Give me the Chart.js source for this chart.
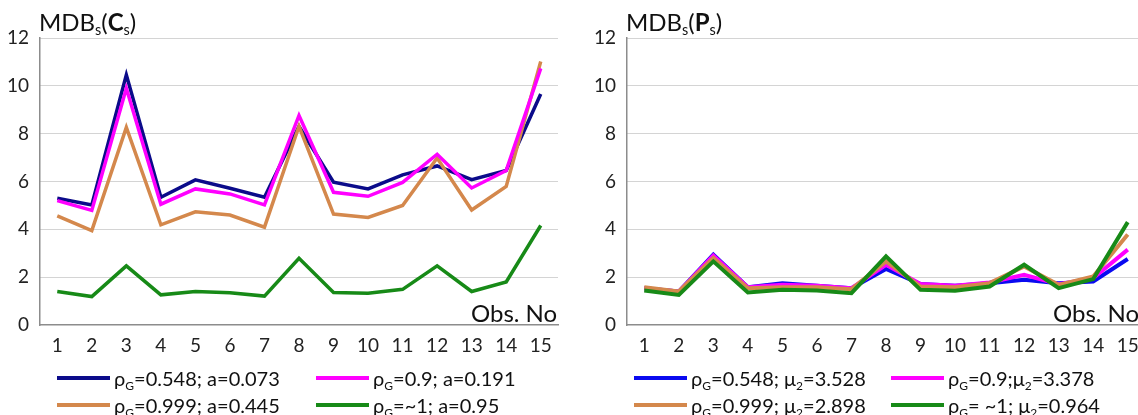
<!DOCTYPE html>
<html>
<head>
<meta charset="utf-8">
<script src="https://cdn.jsdelivr.net/npm/chart.js@4"></script>
<style>
  body { margin: 0; width: 1138px; height: 415px; overflow: hidden; background: #fff; position: relative; font-family: Lato, sans-serif; color: #111; }
  canvas { position: absolute; top: 0; }
  .txt { position: absolute; white-space: nowrap; line-height: 1; }
  .title, .obs { font-size: 24px; }
  sub { font-size: 0.6em; vertical-align: baseline; position: relative; top: 0.3em; line-height: 0; }
  .leg { position: absolute; font-size: 20px; white-space: nowrap; line-height: 1; display: flex; align-items: center; }
  .leg i { display: inline-block; width: 53px; height: 4px; margin-right: 4px; }
</style>
</head>
<body>
<canvas id="chartC" width="570" height="372" style="left:0"></canvas>
<canvas id="chartP" width="585" height="372" style="left:570px"></canvas>
<div class="txt title" style="left:39px; top:10px">MDB<sub>s</sub>(<b>C</b><sub>s</sub>)</div>
<div class="txt title" style="left:626px; top:10px">MDB<sub>s</sub>(<b>P</b><sub>s</sub>)</div>
<div class="txt obs" style="left:471px; top:301px">Obs. No</div>
<div class="txt obs" style="left:1053px; top:301px">Obs. No</div>
<div id="legends"></div>
<script>
// observation numbers on the x axis
const obsNo = ['1', '2', '3', '4', '5', '6', '7', '8', '9', '10', '11', '12', '13', '14', '15'];

// MDBs(Cs) values
const cBlue = [5.3, 5.02, 10.46, 5.34, 6.07, 5.72, 5.34, 8.3, 5.97, 5.69, 6.28, 6.65, 6.08, 6.46, 9.66];
const cMagenta = [5.2, 4.79, 9.9, 5.05, 5.69, 5.48, 5.02, 8.76, 5.55, 5.38, 5.96, 7.14, 5.73, 6.46, 10.73];
const cOrange = [4.56, 3.95, 8.26, 4.19, 4.73, 4.6, 4.09, 8.31, 4.64, 4.5, 5.0, 6.98, 4.81, 5.79, 11.02];
const cGreen = [1.4, 1.19, 2.47, 1.26, 1.4, 1.35, 1.21, 2.79, 1.36, 1.33, 1.49, 2.47, 1.4, 1.8, 4.16];

// MDBs(Ps) values
const pBlue = [1.54, 1.4, 2.94, 1.58, 1.75, 1.64, 1.54, 2.34, 1.71, 1.64, 1.75, 1.89, 1.75, 1.82, 2.76];
const pMagenta = [1.54, 1.4, 2.9, 1.58, 1.68, 1.64, 1.54, 2.52, 1.71, 1.64, 1.78, 2.1, 1.71, 1.96, 3.15];
const pOrange = [1.58, 1.4, 2.8, 1.54, 1.58, 1.58, 1.5, 2.66, 1.61, 1.58, 1.75, 2.45, 1.68, 2.03, 3.78];
const pGreen = [1.44, 1.26, 2.66, 1.36, 1.47, 1.44, 1.33, 2.87, 1.47, 1.43, 1.61, 2.52, 1.54, 1.92, 4.3];

const yTicks = [0, 2, 4, 6, 8, 10, 12];

// legend labels
const cLabels = ['ρ<sub>G</sub>=0.548; a=0.073', 'ρ<sub>G</sub>=0.9; a=0.191', 'ρ<sub>G</sub>=0.999; a=0.445', 'ρ<sub>G</sub>=~1; a=0.95'];
const pLabels = ['ρ<sub>G</sub>=0.548; μ<sub>2</sub>=3.528', 'ρ<sub>G</sub>=0.9;μ<sub>2</sub>=3.378', 'ρ<sub>G</sub>=0.999; μ<sub>2</sub>=2.898', 'ρ<sub>G</sub>= ~1; μ<sub>2</sub>=0.964'];

const cColors = ['#0b0b8a', '#ff00ff', '#d4884c', '#178a17'];
const pColors = ['#0a0af0', '#ff00ff', '#d4884c', '#178a17'];

function makeChart(id, series, colors, order, yWidth, padRight, lineWidth) {
    const ctx = document.getElementById(id).getContext('2d');
    return new Chart(ctx, {
        type: 'line',
        data: {
            labels: obsNo,
            datasets: series.map((d, i) => ({
                data: d, borderColor: colors[i], borderWidth: lineWidth,
                pointRadius: 0, tension: 0, fill: false, order: order[i],
                borderJoinStyle: 'miter'
            })),
        },
        options: {
            responsive: false,
            animation: false,
            layout: { padding: { top: 38, right: padRight, left: 0, bottom: 0 } },
            plugins: { legend: { display: false }, tooltip: { enabled: false } },
            scales: {
                x: {
                    type: 'category', offset: true,
                    grid: { display: false, drawTicks: false },
                    border: { display: true, color: '#8c8c8c', width: 1.5 },
                    ticks: { font: { family: 'Lato', size: 19 }, color: '#222', padding: 9, maxRotation: 0, autoSkip: false },
                    afterFit: (s) => { s.height = 372 - 325; },
                },
                y: {
                    min: 0, max: 12,
                    afterBuildTicks: (s) => { s.ticks = yTicks.map(v => ({ value: v })); },
                    grid: {
                        drawTicks: false, lineWidth: 1,
                        color: (c) => c.tick && c.tick.value === 0 ? 'rgba(0,0,0,0)' : '#a8a8a8',
                    },
                    border: { display: true, color: '#8c8c8c', width: 1.5, dash: [1, 1] },
                    ticks: { font: { family: 'Lato', size: 19 }, color: '#222', padding: 11 },
                    afterFit: (s) => { s.width = yWidth; },
                },
            },
        },
    });
}

const chartC = makeChart('chartC', [cBlue, cMagenta, cOrange, cGreen], cColors, [2, 0, 1, 3], 40, 12, 3.5);
const chartP = makeChart('chartP', [pBlue, pMagenta, pOrange, pGreen], pColors, [3, 2, 1, 0], 57, 10, 4);

// legends under each chart
function addLegend(labels, colors, xs, ys) {
    const box = document.getElementById('legends');
    labels.forEach((lab, i) => {
        const el = document.createElement('div');
        el.className = 'leg';
        el.style.left = xs[i % 2] + 'px';
        el.style.top = (ys[Math.floor(i / 2)] - 10) + 'px';
        el.innerHTML = '<i style="background:' + colors[i] + '"></i><span>' + lab + '</span>';
        box.appendChild(el);
    });
}
addLegend(cLabels, cColors, [57, 316], [378, 405]);
addLegend(pLabels, pColors, [634, 891], [378, 405]);
</script>
</body>
</html>
